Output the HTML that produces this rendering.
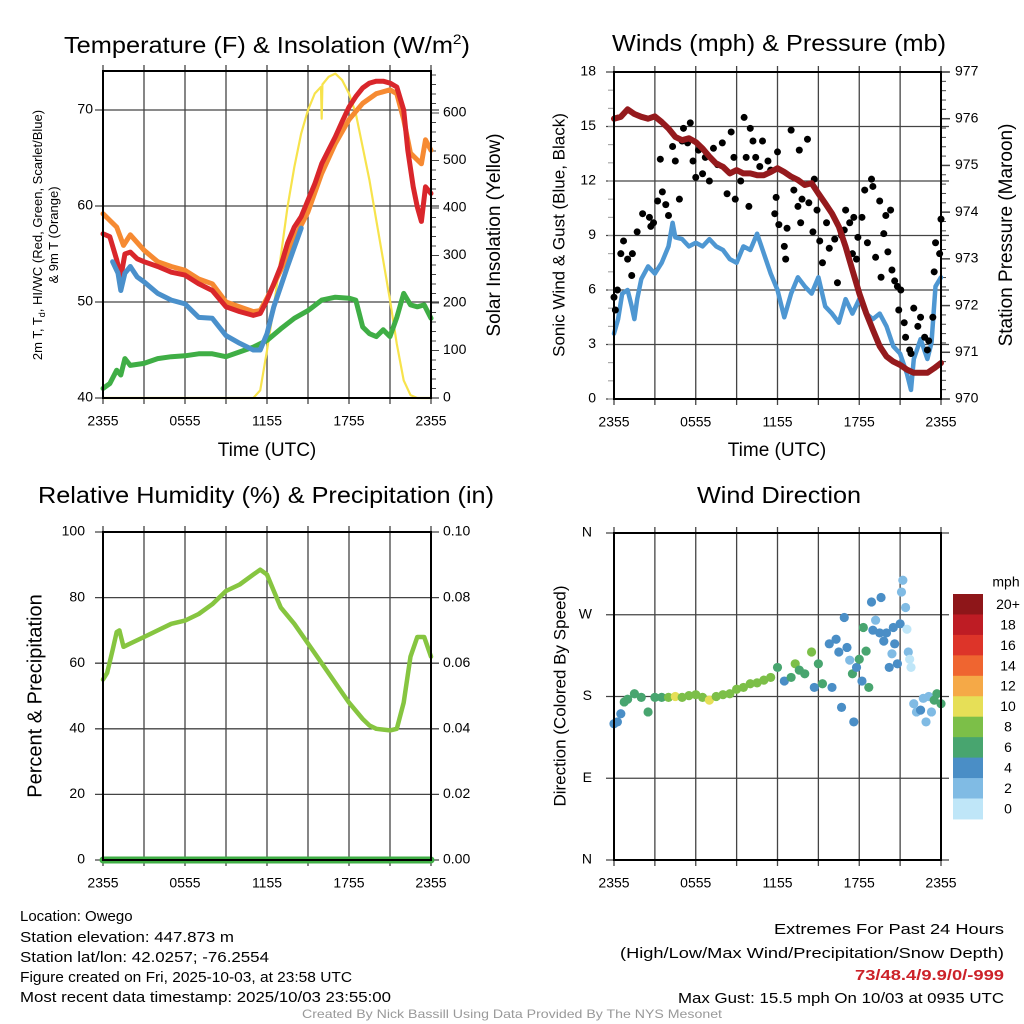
<!DOCTYPE html>
<html><head><meta charset="utf-8">
<style>
html,body{margin:0;padding:0;background:#fff;}
svg{display:block;font-family:"Liberation Sans",sans-serif;}
</style></head>
<body>
<svg id="chart" width="1024" height="1024" viewBox="0 0 1024 1024" xmlns="http://www.w3.org/2000/svg">
<rect x="0" y="0" width="1024" height="1024" fill="#fff"/>
<g id="layer"></g>
<text x="267" y="53" font-size="23" text-anchor="middle" textLength="406" lengthAdjust="spacingAndGlyphs">Temperature (F) &amp; Insolation (W/m<tspan font-size="14" dy="-9">2</tspan><tspan dy="9">)</tspan></text>
<text x="779" y="45" font-size="23" text-anchor="middle" dominant-baseline="middle" textLength="334" lengthAdjust="spacingAndGlyphs">Winds (mph) &amp; Pressure (mb)</text>
<text x="266" y="497" font-size="23" text-anchor="middle" dominant-baseline="middle" textLength="456" lengthAdjust="spacingAndGlyphs">Relative Humidity (%) &amp; Precipitation (in)</text>
<text x="779" y="497" font-size="23" text-anchor="middle" dominant-baseline="middle" textLength="164" lengthAdjust="spacingAndGlyphs">Wind Direction</text>

<text transform="translate(42,235) rotate(-90)" font-size="13" text-anchor="middle">2m T, T<tspan font-size="9" dy="3">d</tspan><tspan dy="-3">, HI/WC (Red, Green, Scarlet/Blue)</tspan></text>
<text transform="translate(58,235) rotate(-90)" font-size="13" text-anchor="middle">&amp; 9m T (Orange)</text>
<text transform="translate(495,235) rotate(-90)" font-size="19" text-anchor="middle" dominant-baseline="middle">Solar Insolation (Yellow)</text>
<text transform="translate(560,235) rotate(-90)" font-size="17" text-anchor="middle" dominant-baseline="middle">Sonic Wind &amp; Gust (Blue, Black)</text>
<text transform="translate(1007,235) rotate(-90)" font-size="19" text-anchor="middle" dominant-baseline="middle">Station Pressure (Maroon)</text>
<text transform="translate(36,696) rotate(-90)" font-size="20" text-anchor="middle" dominant-baseline="middle">Percent &amp; Precipitation</text>
<text transform="translate(561,696) rotate(-90)" font-size="17" text-anchor="middle" dominant-baseline="middle">Direction (Colored By Speed)</text>
<text x="267" y="451" font-size="19" text-anchor="middle" dominant-baseline="middle">Time (UTC)</text>
<text x="777" y="451" font-size="19" text-anchor="middle" dominant-baseline="middle">Time (UTC)</text>

<g font-size="15">
<text x="20" y="921">Location: Owego</text>
<text x="20" y="942" textLength="214" lengthAdjust="spacingAndGlyphs">Station elevation: 447.873 m</text>
<text x="20" y="962" textLength="249" lengthAdjust="spacingAndGlyphs">Station lat/lon: 42.0257; -76.2554</text>
<text x="20" y="982" textLength="332" lengthAdjust="spacingAndGlyphs">Figure created on Fri, 2025-10-03, at 23:58 UTC</text>
<text x="20" y="1002" textLength="371" lengthAdjust="spacingAndGlyphs">Most recent data timestamp: 2025/10/03 23:55:00</text>
</g>
<g font-size="15" text-anchor="end">
<text x="1004" y="934" textLength="230" lengthAdjust="spacingAndGlyphs">Extremes For Past 24 Hours</text>
<text x="1004" y="958" textLength="384" lengthAdjust="spacingAndGlyphs">(High/Low/Max Wind/Precipitation/Snow Depth)</text>
<text x="1004" y="980" textLength="149" lengthAdjust="spacingAndGlyphs" fill="#cc2229" font-weight="bold">73/48.4/9.9/0/-999</text>
<text x="1004" y="1003" textLength="326" lengthAdjust="spacingAndGlyphs">Max Gust: 15.5 mph On 10/03 at 0935 UTC</text>
</g>
<text x="512" y="1018" font-size="12" fill="#999" text-anchor="middle" textLength="420" lengthAdjust="spacingAndGlyphs">Created By Nick Bassill Using Data Provided By The NYS Mesonet</text>
</svg>
<script>
// ---- data ----
const xTickLabels = ["2355","0555","1155","1755","2355"];
const xTickHours = [0,6,12,18,24];
const tempTicks = [40,50,60,70];
const solarTicks = [0,100,200,300,400,500,600];
const redHours = [0,0.5,1,1.3,1.6,2,2.5,3,4,5,6,7,8,9,10,11,11.5,12,12.5,13,13.5,14,14.5,15,15.5,16,16.5,17,17.5,18,18.5,19,19.5,20,20.5,21,21.5,22,22.3,22.7,23,23.3,23.6,24];
const redTemp = [57.1,56.8,54.4,52.6,55.0,55.2,54.5,54.2,53.7,53.1,52.8,51.9,51.2,49.5,49.0,48.6,48.8,50.2,51.9,53.7,56.1,57.8,58.9,60.6,62.3,64.4,65.8,67.2,68.8,70.3,71.4,72.3,72.8,73.0,73.0,72.8,72.4,70.0,65.8,62.0,59.9,58.4,62.0,61.3];
const orangeHours = [0,1,1.5,2,3,4,5,6,7,8,9,10,11,11.5,12,13,14,15,16,17,18,19,20,21,21.5,22,22.5,23,23.3,23.6,24];
const orangeTemp = [59.2,57.8,55.9,57.0,55.4,54.2,53.7,53.3,52.4,51.9,50.0,49.5,49.0,49.1,50.4,53.3,56.6,59.4,63.4,66.5,69.0,70.7,71.7,72.1,71.7,69.0,65.5,64.8,64.4,66.9,65.8];
const blueHours = [0.7,1.1,1.3,1.6,2,2.5,3,4,5,6,7,8,9,10,11,11.5,12,12.5,13,13.5,14,14.5];
const blueTemp = [54.2,53.0,51.2,53.0,53.7,52.6,52.1,50.9,50.2,49.8,48.4,48.3,46.5,45.7,45.0,45.0,46.7,49.5,51.6,53.7,55.7,57.7];
const greenHours = [0,0.5,1,1.3,1.6,2,3,4,5,6,7,8,9,10,11,12,13,14,15,16,17,18,18.5,19,19.5,20,20.5,21,21.5,22,22.5,23,23.5,24];
const greenTemp = [41.0,41.5,42.9,42.4,44.1,43.4,43.6,44.1,44.3,44.4,44.6,44.6,44.3,44.8,45.3,46.0,47.2,48.3,49.1,50.2,50.5,50.4,50.2,47.4,46.7,46.4,47.1,46.4,48.4,50.9,49.7,49.5,49.7,48.3];
const solarHours = [0,11,11.5,12,12.5,13,13.5,14,14.5,15,15.5,15.95,16.0,16.05,16.5,17,17.5,18,18.5,19,19.5,20,20.5,21,21.5,22,22.5,23,24];
const solarVals = [0,0,16,100,192,297,402,486,557,606,641,655,588,660,676,683,669,641,599,528,458,374,290,206,114,37,6,0,0];

const windTicks = [0,3,6,9,12,15,18];
const presTicks = [970,971,972,973,974,975,976,977];
const sustHours = [0,0.3,0.6,1,1.3,1.5,1.7,2,2.5,3,3.5,4,4.3,4.5,5,5.5,6,6.5,7,7.5,8,8.5,9,9.5,10,10.5,11,11.5,12,12.5,13,13.5,14,14.5,15,15.5,16,16.5,17,17.5,18,18.5,19,19.5,20,20.5,21,21.5,21.8,22,22.5,23,23.3,23.6,24];
const sustVals = [3.6,4.4,5.8,6.0,5.1,4.4,5.5,6.6,7.3,6.9,7.5,8.4,9.7,8.9,8.8,8.4,8.6,8.4,8.8,8.4,8.2,7.7,7.5,8.4,8.2,9.1,8.0,6.9,6.0,4.5,5.8,6.7,6.2,5.8,6.7,5.1,4.7,4.2,5.5,4.7,5.5,4.7,4.4,4.7,4.0,2.9,2.5,1.4,0.5,2.2,3.3,2.2,3.1,6.2,6.7];
const gustHours = [0,0.1,0.25,0.5,0.7,1.0,1.35,1.3,1.7,2.1,2.6,2.7,2.9,3.2,3.4,3.55,3.8,4.0,4.3,4.5,4.8,5.0,5.1,5.4,5.6,5.8,6.0,6.2,6.5,6.7,7.0,7.3,7.6,7.95,8.3,8.6,8.8,8.9,9.3,9.55,9.7,9.9,10.0,10.2,10.4,10.7,10.9,11.3,11.5,11.8,11.9,12.0,12.1,12.5,12.6,12.7,13.0,13.2,13.5,13.6,13.7,13.8,14.2,14.3,14.6,14.7,14.9,15.1,15.3,15.6,15.8,16.2,16.4,16.7,16.9,17.0,17.3,17.5,17.6,17.8,17.9,18.2,18.4,18.6,18.9,19.0,19.2,19.5,19.6,19.8,19.95,20.1,20.3,20.4,20.6,20.8,20.9,21.05,21.3,21.4,21.7,21.8,22.0,22.3,22.5,22.8,23.0,23.1,23.4,23.5,23.6,23.9,24.0];
const gustVals = [5.6,4.9,6.0,8.0,8.7,7.7,8.0,6.8,9.2,10.2,10.0,9.5,9.7,10.9,13.2,11.4,10.7,10.1,13.9,13.1,11.0,14.2,14.9,14.1,15.2,13.1,12.2,13.7,12.4,13.3,12.0,13.8,12.9,14.1,11.3,14.7,13.3,11.0,12.0,15.5,13.3,10.6,14.9,14.2,13.3,12.8,14.2,13.1,12.6,10.2,11.1,13.6,9.6,8.4,7.7,9.4,14.8,11.5,10.6,13.7,9.7,11.0,14.3,10.8,9.2,12.1,10.4,8.7,7.5,9.7,8.3,8.8,6.4,9.0,9.3,10.4,9.7,8.0,10.0,7.7,8.9,10.0,11.5,8.6,12.1,11.7,7.8,10.9,6.7,9.1,10.1,8.1,10.4,7.1,6.5,6.2,4.9,6.0,4.2,3.4,2.7,2.5,5.0,4.0,4.5,3.4,2.7,3.2,4.5,7.0,8.6,8.0,9.9];
const presHours = [0,0.5,1,1.5,2,2.5,3,3.5,4,4.5,5,5.5,6,6.5,7,7.5,8,8.5,9,9.5,10,10.5,11,11.5,12,12.5,13,13.5,14,14.5,15,15.5,16,16.5,17,17.5,18,18.5,19,19.5,20,20.5,21,21.5,22,22.5,23,23.5,24];
const presVals = [976.0,976.04,976.2,976.1,976.04,976.0,976.05,975.93,975.79,975.61,975.54,975.58,975.5,975.36,975.19,975.04,974.97,974.83,974.9,974.83,974.83,974.79,974.79,974.86,974.94,974.86,974.76,974.69,974.58,974.62,974.4,974.19,973.97,973.69,973.26,972.76,972.26,971.84,971.48,971.13,970.91,970.8,970.73,970.63,970.56,970.56,970.56,970.66,970.77];

const rhTicks = [0,20,40,60,80,100];
const precipTicks = ["0.00","0.02","0.04","0.06","0.08","0.10"];
const rhHours = [0,0.3,0.7,1,1.2,1.5,2,3,4,5,6,7,8,9,10,11,11.5,12,12.5,13,14,15,16,17,18,19,19.5,20,21,21.5,22,22.5,23,23.5,24];
const rhVals = [55,57,64,69.5,70,65,66,68,70,72,73,75,78,82,84,87,88.5,87,82,77,72,66,60,54,48,43,41,40,39.5,40,48,62,68,68,62];
const precipHours = [0,24];
const precipVals = [0,0];

const dirTickLabels = ["N","E","S","W","N"];
const dirTickDeg = [0,90,180,270,360];
const dirHours = [0,0.25,0.5,0.75,1,1.5,2,2.5,3,3.5,4,4.5,5,5.5,6,6.5,7,7.5,8,8.5,9,9.5,10,10.5,11,11.5,12,12.5,13,13.3,13.6,14,14.5,14.7,15,15.3,15.8,16,16.3,16.5,16.7,16.9,17.1,17.3,17.5,17.6,17.8,18,18.2,18.3,18.5,18.7,18.9,19,19.2,19.5,19.6,19.8,20,20.2,20.4,20.5,20.6,20.8,21,21.1,21.2,21.4,21.5,21.6,21.7,21.8,22,22.2,22.5,22.7,22.9,23.1,23.3,23.5,23.7,24];
const dirDeg = [150,152,161,174,177,183,179,163,179,179,179,180,179,181,182,179,176,180,182,183,188,190,194,195,198,201,212,197,201,216,209,205,229,190,216,194,238,190,243,229,168,267,234,220,205,152,212,221,197,256,230,190,284,253,264,250,289,241,250,212,227,256,238,216,260,295,308,278,254,229,221,212,172,163,165,178,152,180,163,176,183,172];
const dirSpeed = [4,4,5,6,6,6,7,6,6,7,8,10,8,8,8,8,10,8,8,8,8,8,8,8,8,8,6,4,6,8,6,6,8,4,6,6,4,4,4,4,4,4,4,2,6,4,4,6,4,6,6,6,4,4,2,4,4,4,4,4,2,4,4,4,4,2,2,2,0,2,0,0,2,2,4,2,2,2,2,6,6,6];
const speedLabels = ["20+","18","16","14","12","10","8","6","4","2","0"];
const speedColors = ["#bfe6f8","#80bbe4","#4a8ec6","#48a56f","#7cbf48","#e6df57","#f5a947","#ef6530","#dd3429","#be1c24","#8e1619"];

// ---- helpers ----
const NS="http://www.w3.org/2000/svg";
const layer=document.getElementById('layer');
function mk(tag,attrs,parent){const e=document.createElementNS(NS,tag);for(const k in attrs)e.setAttribute(k,attrs[k]);(parent||layer).appendChild(e);return e;}
function lin(d0,d1,r0,r1){return v=>r0+(v-d0)*(r1-r0)/(d1-d0);}
function polyline(xs,ys,sx,sy,color,w,name){
  const pts=xs.map((h,i)=>sx(h).toFixed(1)+','+sy(ys[i]).toFixed(1)).join(' ');
  const p=mk('polyline',{points:pts,fill:'none',stroke:color,'stroke-width':w,'stroke-linejoin':'round','stroke-linecap':'round'});
  
  
  return p;
}
function text(x,y,s,size,anchor,name){
  const t=mk('text',{x:x,y:y,'font-size':size,'text-anchor':anchor,'dominant-baseline':'middle'});
  t.textContent=s;
  
  
  return t;
}
function frame(L,T,R,B,name){
  const g=mk('g',{});
  
  
  const sx=lin(0,24,L,R);
  for(let i=0;i<=8;i++){const x=sx(i*3);mk('line',{x1:x,y1:T-6,x2:x,y2:B+6,stroke:'#444','stroke-width':1.3},g);}
  xTickHours.forEach((h,i)=>{text(sx(h),B+24,xTickLabels[i],14,'middle','x-tick-label');});
  return {g,sx};
}
function hgrid(g,y,L,R){mk('line',{x1:L-8,y1:y,x2:R+8,y2:y,stroke:'#444','stroke-width':1.3},g);}
function box(L,T,R,B){mk('rect',{x:L,y:T,width:R-L,height:B-T,fill:'none',stroke:'#000','stroke-width':2});}

// ---- panel 1: temperature ----
(function(){
  const L=103,T=71,R=431,B=398;
  const f=frame(L,T,R,B,'temp-panel');
  const sy=lin(40,70,398,110), sy2=lin(0,600,398,113);
  tempTicks.forEach(v=>{hgrid(f.g,sy(v),L,R);text(L-10,sy(v),String(v),14,'end','temp-tick-label');});
  for(let v=0;v<=680;v+=20){const y=sy2(v);if(y<T)break;mk('line',{x1:R,y1:y,x2:R+(v%100===0?8:5),y2:y,stroke:'#444','stroke-width':1},f.g);}
  solarTicks.forEach(v=>{text(R+12,sy2(v),String(v),14,'start','solar-tick-label');});
  polyline(solarHours,solarVals,f.sx,sy2,'#f7e34c',2.2,'solar-line');
  polyline(greenHours,greenTemp,f.sx,sy,'#3fae45',5,'dewpoint-line');
  polyline(orangeHours,orangeTemp,f.sx,sy,'#f68a32',5,'9m-temp-line');
  polyline(redHours,redTemp,f.sx,sy,'#d9262b',5,'2m-temp-line');
  polyline(blueHours,blueTemp,f.sx,sy,'#4a90cb',5,'windchill-line');
  box(L,T,R,B);
})();

// ---- panel 2: winds ----
(function(){
  const L=614,T=72,R=941,B=399;
  const f=frame(L,T,R,B,'wind-panel');
  const sy=lin(0,18,B,T), sy2=lin(970,977,B,T);
  windTicks.forEach(v=>{hgrid(f.g,sy(v),L,R);text(L-18,sy(v),String(v),14,'end','wind-tick-label');});
  for(let v=970;v<=977.001;v+=0.2){const y=sy2(v);const maj=Math.abs(v-Math.round(v))<0.01;mk('line',{x1:R,y1:y,x2:R+(maj?9:5),y2:y,stroke:'#444','stroke-width':maj?1.5:1},f.g);}
  presTicks.forEach(v=>{text(R+14,sy2(v),String(v),14,'start','pressure-tick-label');});
  for(let v=0;v<18;v+=1){mk('line',{x1:L-6,y1:sy(v),x2:L,y2:sy(v),stroke:'#999','stroke-width':1},f.g);}
  polyline(sustHours,sustVals,f.sx,sy,'#4e97d2',4.5,'sustained-wind-line');
  gustHours.forEach((h,i)=>{const c=mk('circle',{cx:f.sx(h),cy:sy(gustVals[i]),r:3.5,fill:'#000'});
    
    });
  polyline(presHours,presVals,f.sx,sy2,'#951a1d',6,'pressure-line');
  box(L,T,R,B);
})();

// ---- panel 3: RH ----
(function(){
  const L=103,T=532,R=431,B=860;
  const f=frame(L,T,R,B,'rh-panel');
  const sy=lin(0,100,B,T), sy2=lin(0,0.1,B,T);
  rhTicks.forEach((v,i)=>{hgrid(f.g,sy(v),L,R);text(L-18,sy(v),String(v),14,'end','rh-tick-label');text(R+12,sy(v),precipTicks[i],14,'start','precip-tick-label');});
  polyline(rhHours,rhVals,f.sx,sy,'#86c540',4.5,'rh-line');
  polyline(precipHours,precipVals,f.sx,sy2,'#3fae45',7,'precip-line');
  box(L,T,R,B);
})();

// ---- panel 4: wind direction ----
(function(){
  const L=614,T=533,R=941,B=860;
  const f=frame(L,T,R,B,'dir-panel');
  const sy=lin(0,360,B,T);
  dirTickDeg.forEach((v,i)=>{hgrid(f.g,sy(v),L,R);text(L-22,sy(v),dirTickLabels[i],14,'end','dir-tick-label');});
  dirHours.forEach((h,i)=>{const idx=Math.min(10,Math.floor(dirSpeed[i]/2));
    const c=mk('circle',{cx:f.sx(h),cy:sy(dirDeg[i]),r:4.6,fill:speedColors[idx]});
    
    });
  box(L,T,R,B);
  // legend
  const lg=mk('g',{});
  
  
  const top=594, h=20.45;
  speedLabels.forEach((s,i)=>{
    const r=mk('rect',{x:953,y:top+i*h,width:30,height:h+0.5,fill:speedColors[10-i]},lg);
    
    
    text(1008,top+i*h+h/2+1,s,14,'middle','legend-label');
  });
  text(1006,583,'mph',14,'middle','legend-title');
})();
</script>
</body></html>
